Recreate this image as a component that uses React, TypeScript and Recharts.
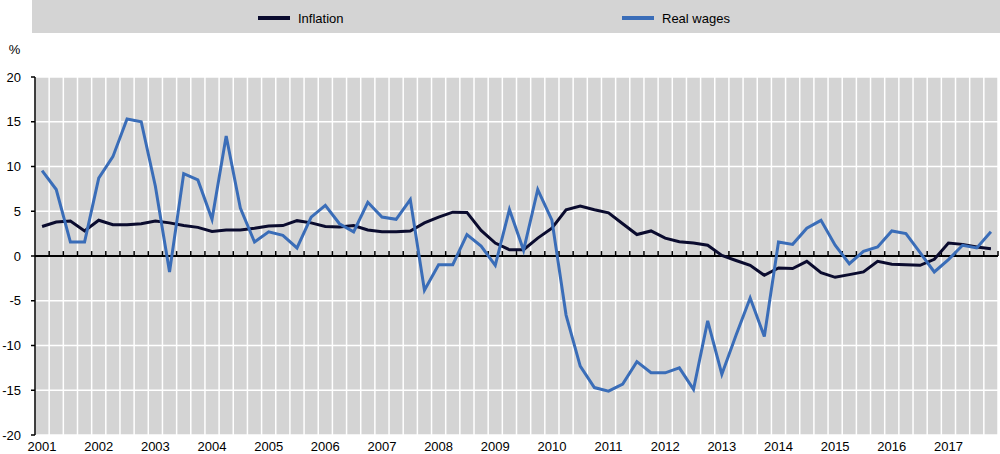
import {
  CartesianGrid,
  Legend,
  Line,
  LineChart,
  ReferenceLine,
  XAxis,
  YAxis,
} from "recharts";

// ---- data (quarterly, 2001Q1 - 2017Q4) ----
const years = [
  "2001", "2002", "2003", "2004", "2005", "2006", "2007", "2008", "2009",
  "2010", "2011", "2012", "2013", "2014", "2015", "2016", "2017",
];

const quarters = years.flatMap((y) => [`${y}Q1`, `${y}Q2`, `${y}Q3`, `${y}Q4`]);

const inflation = [
  3.3, 3.8, 3.9, 2.8, 4.0, 3.5, 3.5, 3.6, 3.9, 3.7, 3.4, 3.2,
  2.75, 2.9, 2.9, 3.1, 3.35, 3.4, 3.95, 3.7, 3.3, 3.25, 3.4, 2.9,
  2.7, 2.7, 2.8, 3.7, 4.35, 4.9, 4.87, 2.86, 1.45, 0.7, 0.7, 2.0,
  3.1, 5.17, 5.58, 5.17, 4.83, 3.6, 2.4, 2.8, 2.0, 1.6, 1.45, 1.2,
  0.07, -0.5, -1.04, -2.16, -1.34, -1.4, -0.6, -1.86, -2.38, -2.08, -1.78, -0.6,
  -0.93, -0.97, -1.04, -0.37, 1.45, 1.3, 1.0, 0.82,
];

const realWages = [
  9.55, 7.43, 1.56, 1.56, 8.7, 11.1, 15.3, 15.0, 7.8, -1.78, 9.2, 8.5,
  4.1, 13.4, 5.35, 1.56, 2.7, 2.3, 0.9, 4.35, 5.65, 3.6, 2.7, 6.0,
  4.35, 4.1, 6.3, -3.83, -0.97, -0.97, 2.4, 1.1, -1.04, 5.2, 0.63, 7.43,
  4.0, -6.6, -12.3, -14.7, -15.1, -14.3, -11.8, -13.05, -13.05, -12.5, -14.9, -7.25,
  -13.2, -8.85, -4.7, -9.0, 1.56, 1.3, 3.1, 3.98, 1.2, -0.86, 0.52, 1.0,
  2.8, 2.5, 0.37, -1.78, -0.4, 1.2, 0.9, 2.7,
];

const yTicks = [-20, -15, -10, -5, 0, 5, 10, 15, 20];

const data = quarters.map((q, i) => ({
  idx: i,
  quarter: q,
  inflation: inflation[i],
  realWages: realWages[i],
}));

// year labels sit on the first quarter of each year
const xTicks = years.map((_, i) => i * 4);
// quarter boundaries for the vertical grid and the small ticks on the zero line
const boundaries = [...quarters.map((_, i) => i - 0.5), quarters.length - 0.5];

const FONT = "'Liberation Sans', Arial, sans-serif";
const BG = "#d4d4d4";
const INFL = "#0a0b2e";
const WAGES = "#3a6db8";

function LegendBox({ payload }: any) {
  return (
    <div
      style={{
        width: "100%",
        height: "100%",
        background: BG,
        display: "flex",
        alignItems: "center",
        paddingLeft: 226,
        paddingTop: 3,
        boxSizing: "border-box",
        fontFamily: FONT,
        fontSize: 13,
        color: "#000",
      }}
    >
      {(payload || []).map((p: any) => (
        <div
          key={p.value}
          style={{ display: "flex", alignItems: "center", width: 364 }}
        >
          <span
            style={{
              display: "inline-block",
              width: 32,
              height: 4,
              background: p.color,
              marginRight: 8,
            }}
          />
          <span>{p.value}</span>
        </div>
      ))}
    </div>
  );
}

export default function App() {
  return (
    <div style={{ position: "absolute", left: 0, top: 0, background: "#fff" }}>
      <LineChart
        width={1000}
        height={454}
        data={data}
        margin={{ top: 77, right: 2, bottom: 0, left: 0 }}
      >
        <CartesianGrid
          fill={BG}
          stroke="#ffffff"
          strokeWidth={1.5}
          verticalValues={boundaries}
        />
        <XAxis
          dataKey="idx"
          type="number"
          domain={[-0.5, quarters.length - 0.5]}
          ticks={xTicks}
          tickFormatter={(v: number) => years[v / 4]}
          interval={0}
          axisLine={false}
          tickLine={false}
          tickSize={0}
          tickMargin={7}
          height={19}
          tick={{ fill: "#000", fontSize: 13, fontFamily: FONT }}
        />
        <YAxis
          domain={[-20, 20]}
          ticks={yTicks}
          interval={0}
          width={35}
          axisLine={{ stroke: "#000", strokeWidth: 1.5 }}
          tickLine={{ stroke: "#000", strokeWidth: 1.5 }}
          tickSize={4}
          tickMargin={10}
          tick={{ fill: "#000", fontSize: 13, fontFamily: FONT }}
          label={{
            value: "%",
            position: "top",
            offset: 23,
            dx: -3,
            fill: "#000",
            fontSize: 13,
            fontFamily: FONT,
          }}
        />
        <ReferenceLine y={0} stroke="#000" strokeWidth={2} />
        {boundaries.slice(1).map((b) => (
          <ReferenceLine
            key={b}
            segment={[
              { x: b, y: 0 },
              { x: b, y: 0.55 },
            ]}
            stroke="#000"
            strokeWidth={1.5}
          />
        ))}
        <Legend
          verticalAlign="middle"
          align="center"
          layout="horizontal"
          wrapperStyle={{ top: 0, left: 32, width: 968, height: 33 }}
          content={<LegendBox />}
        />
        <Line
          type="linear"
          dataKey="inflation"
          name="Inflation"
          stroke={INFL}
          strokeWidth={3}
          dot={false}
          activeDot={false}
          isAnimationActive={false}
        />
        <Line
          type="linear"
          dataKey="realWages"
          name="Real wages"
          stroke={WAGES}
          strokeWidth={3}
          dot={false}
          activeDot={false}
          isAnimationActive={false}
        />
      </LineChart>
    </div>
  );
}
